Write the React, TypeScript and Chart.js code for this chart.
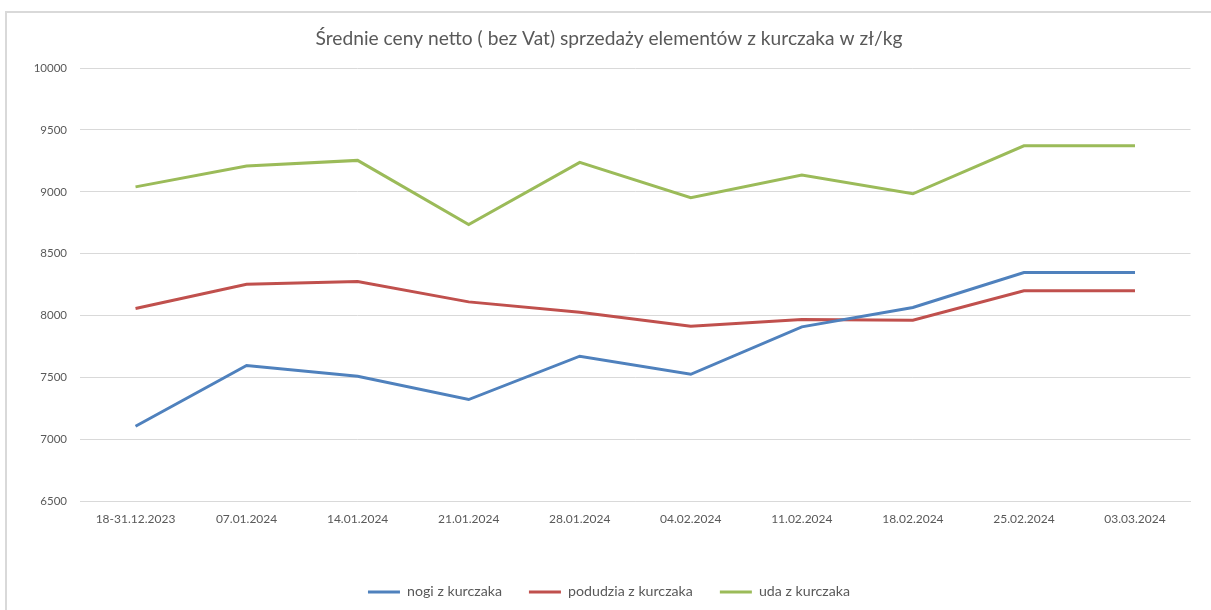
import React, { useEffect, useRef } from "react";
import { Chart, registerables } from "chart.js";

Chart.register(...registerables);

const TITLE = "Średnie ceny netto ( bez Vat) sprzedaży elementów z kurczaka w zł/kg";

const categories = [
  "18-31.12.2023",
  "07.01.2024",
  "14.01.2024",
  "21.01.2024",
  "28.01.2024",
  "04.02.2024",
  "11.02.2024",
  "18.02.2024",
  "25.02.2024",
  "03.03.2024",
];

const nogi = [7106, 7597, 7510, 7322, 7672, 7526, 7909, 8066, 8348, 8348];
const podudzia = [8057, 8254, 8275, 8111, 8028, 7914, 7968, 7963, 8200, 8200];
const uda = [9040, 9208, 9254, 8736, 9238, 8952, 9135, 8984, 9372, 9372];

const seriesNames = ["nogi z kurczaka", "podudzia z kurczaka", "uda z kurczaka"];
const seriesColors = ["#4f81bd", "#c0504d", "#9bbb59"];

const Y_MIN = 6500;
const Y_MAX = 10000;
const Y_STEP = 500;

const FONT = "Lato, 'Open Sans', sans-serif";
const TEXT_COLOR = "#595959";
const GRID_COLOR = "#d9d9d9";

export default function App() {
  const canvasRef = useRef<HTMLCanvasElement | null>(null);

  useEffect(() => {
    const canvas = canvasRef.current;
    if (!canvas) return;
    const data = [nogi, podudzia, uda];
    const chart = new Chart(canvas, {
      type: "line",
      data: {
        labels: categories,
        datasets: data.map((d, i) => ({
          label: seriesNames[i],
          data: d,
          borderColor: seriesColors[i],
          backgroundColor: seriesColors[i],
          borderWidth: 3,
          pointRadius: 0,
          pointHoverRadius: 0,
          tension: 0,
          fill: false,
          pointStyle: "line",
        })),
      },
      options: {
        responsive: false,
        animation: false,
        maintainAspectRatio: false,
        layout: { padding: { left: 27.5, right: 20.5, top: 0, bottom: 0 } },
        plugins: {
          title: {
            display: true,
            text: TITLE,
            color: TEXT_COLOR,
            font: { family: FONT, size: 19.2, weight: "normal", lineHeight: 1.2 },
            padding: { top: 27, bottom: 18 },
          },
          legend: {
            display: true,
            position: "bottom",
            labels: {
              color: TEXT_COLOR,
              font: { family: FONT, size: 14.2 },
              usePointStyle: true,
              pointStyle: "line",
              pointStyleWidth: 32,
              boxHeight: 13,
              padding: 27,
            },
          },
          tooltip: { enabled: false },
        },
        scales: {
          x: {
            offset: true,
            grid: { display: false, drawTicks: false, offset: true },
            border: { display: true, color: GRID_COLOR, width: 1 },
            ticks: {
              color: TEXT_COLOR,
              font: { family: FONT, size: 12 },
              padding: 11,
              maxRotation: 0,
              autoSkip: false,
            },
            afterFit: (scale: any) => {
              scale.height = 56.5;
            },
          },
          y: {
            min: Y_MIN,
            max: Y_MAX,
            grid: { color: GRID_COLOR, lineWidth: 1, drawTicks: false },
            border: { display: false },
            ticks: {
              stepSize: Y_STEP,
              color: TEXT_COLOR,
              font: { family: FONT, size: 11.5 },
              padding: 13,
              callback: (v: any) => String(v),
            },
            afterFit: (scale: any) => {
              scale.width = 52.5;
            },
          },
        },
      },
    });
    return () => chart.destroy();
  }, []);

  return (
    <div>
      <div
        style={{
          position: "fixed",
          left: 5,
          top: 11,
          width: 1400,
          height: 800,
          borderTop: `2px solid ${GRID_COLOR}`,
          borderLeft: `2px solid ${GRID_COLOR}`,
          background: "#ffffff",
        }}
      />
      <canvas
        ref={canvasRef}
        width={1211}
        height={609}
        style={{ position: "fixed", left: 0, top: 0, width: 1211, height: 609 }}
      />
    </div>
  );
}
